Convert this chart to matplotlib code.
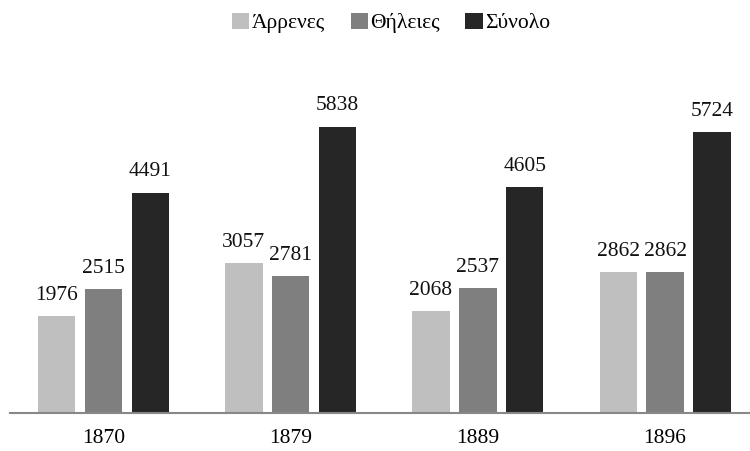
import numpy as np
import matplotlib
matplotlib.use("Agg")
import matplotlib.pyplot as plt

#%% DATA
years   = ["1870", "1879", "1889", "1896"]
males   = [1976, 3057, 2068, 2862]
females = [2515, 2781, 2537, 2862]
total   = [4491, 5838, 4605, 5724]
labels  = ["Άρρενες", "Θήλειες", "Σύνολο"]
colors  = ["#bfbfbf", "#7f7f7f", "#262626"]

plt.rcParams['font.family'] = ['Liberation Serif', 'DejaVu Serif']

#%% FIGURE
fig = plt.figure(figsize=(7.5, 4.51), dpi=100)
ax = fig.add_axes([9.9/750, (451-412.5)/451, 748.7/750, 318.4/451])

x = np.arange(len(years))
w = 0.2
series = [males, females, total]
for i, vals in enumerate(series):
    bars = ax.bar(x + (i-1)*0.25, vals, w, color=colors[i], label=labels[i])
    for b, v in zip(bars, vals):
        ax.annotate(str(v), (b.get_x() + b.get_width()/2, v), xytext=(0, 8),
                    textcoords="offset points", ha="center", va="bottom",
                    fontsize=15.5, color="#111111")

ax.set_xlim(-0.5, 3.5)
ax.set_ylim(0, 6500)
ax.set_xticks(x)
ax.set_xticklabels(years, fontsize=15.5)
ax.tick_params(axis='x', length=0, pad=12)
ax.set_yticks([])
for s in ["top", "right", "left"]:
    ax.spines[s].set_visible(False)
ax.spines["bottom"].set_color("#888888")
ax.spines["bottom"].set_linewidth(1.5)

fig.legend(loc="center", bbox_to_anchor=(391/750, 1-23/451), ncol=3, frameon=False,
           fontsize=15.5, handlelength=0.8, handleheight=0.8, handletextpad=0.1,
           columnspacing=1.2)

fig.savefig("out.png", dpi=100)
